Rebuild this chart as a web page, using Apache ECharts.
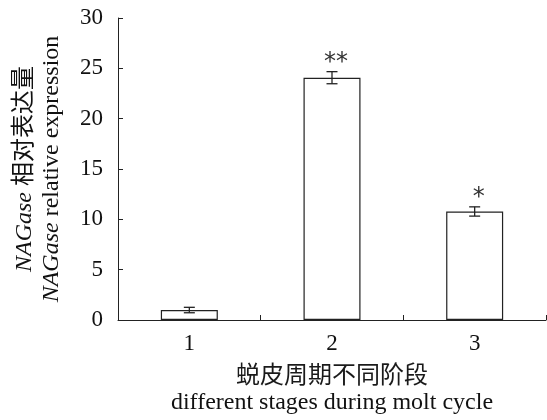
<!DOCTYPE html>
<html><head><meta charset="utf-8">
<script src="https://cdn.jsdelivr.net/npm/echarts@6/dist/echarts.min.js"></script>
<style>html,body{margin:0;padding:0;background:#fff}#c{width:547px;height:420px}</style>
</head><body><div id="c"></div>
<script>
const categories = ['1', '2', '3'];
const values = [0.99, 24.07, 10.78];
const errors = [0.27, 0.6, 0.46];
const significance = ['', '**', '*'];
const yTicks = [0, 5, 10, 15, 20, 25, 30];

const serif = '"Liberation Serif", "Times New Roman", "Noto Sans CJK SC", serif';
const chart = echarts.init(document.getElementById('c'), null, {renderer: 'canvas'});
const errData = values.map((v, i) => [i, v, errors[i]]);
const titleRich = {i: {fontStyle: 'italic', fontFamily: serif, fontSize: 24, fill: '#111'}};

chart.setOption({
  animation: false,
  backgroundColor: '#fff',
  grid: {left: 118, right: 1, top: 18, bottom: 100, containLabel: false},
  xAxis: {
    type: 'category', data: categories,
    axisLine: {lineStyle: {color: '#222', width: 1}},
    axisTick: {show: true, inside: true, length: 5, alignWithLabel: false, lineStyle: {color: '#222'}},
    axisLabel: {color: '#111', fontFamily: serif, fontSize: 23, margin: 12},
    splitLine: {show: false}
  },
  yAxis: {
    type: 'value', min: yTicks[0], max: yTicks[yTicks.length - 1], interval: 5,
    axisLine: {show: true, lineStyle: {color: '#222', width: 1}},
    axisTick: {show: true, inside: true, length: 5, lineStyle: {color: '#222'}},
    axisLabel: {color: '#111', fontFamily: serif, fontSize: 23, margin: 15},
    splitLine: {show: false}
  },
  graphic: [
    {type: 'text', x: 25, y: 169, rotation: Math.PI / 2,
      style: {text: '{i|NAGase} 相对表达量', fill: '#111', font: '24px ' + serif,
        textAlign: 'center', textVerticalAlign: 'middle', rich: titleRich}},
    {type: 'text', x: 52, y: 169, rotation: Math.PI / 2,
      style: {text: '{i|NAGase} relative expression', fill: '#111', font: '24px ' + serif,
        textAlign: 'center', textVerticalAlign: 'middle', rich: titleRich}},
    {type: 'text', x: 332, y: 377,
      style: {text: '蜕皮周期不同阶段', fill: '#1a1a1a', font: '24px ' + serif, textAlign: 'center', textVerticalAlign: 'middle'}},
    {type: 'text', x: 332, y: 403,
      style: {text: 'different stages during molt cycle', fill: '#111', font: '24px ' + serif, textAlign: 'center', textVerticalAlign: 'middle'}}
  ],
  series: [
    {type: 'bar', data: values, barWidth: 57,
      itemStyle: {color: '#fff', borderColor: '#222', borderWidth: 1.2}},
    {type: 'custom', data: errData, z: 10,
      renderItem: function (params, api) {
        const x = api.value(0), v = api.value(1), e = api.value(2);
        const top = api.coord([x, v + e]);
        const bot = api.coord([x, v - e]);
        const cx = top[0], hw = 5.5;
        const st = {stroke: '#222', lineWidth: 1.3};
        const s = significance[params.dataIndex];
        const children = [
          {type: 'line', shape: {x1: cx, y1: top[1], x2: cx, y2: bot[1]}, style: st},
          {type: 'line', shape: {x1: cx - hw, y1: top[1], x2: cx + hw, y2: top[1]}, style: st},
          {type: 'line', shape: {x1: cx - hw, y1: bot[1], x2: cx + hw, y2: bot[1]}, style: st}
        ];
        if (s) {
          children.push({type: 'text', x: cx + 4, y: top[1] - 9,
            style: {text: s, fill: '#333', font: '24px "DejaVu Sans", sans-serif', textAlign: 'center', textVerticalAlign: 'middle'}});
        }
        return {type: 'group', children: children};
      }}
  ]
});
</script></body></html>
